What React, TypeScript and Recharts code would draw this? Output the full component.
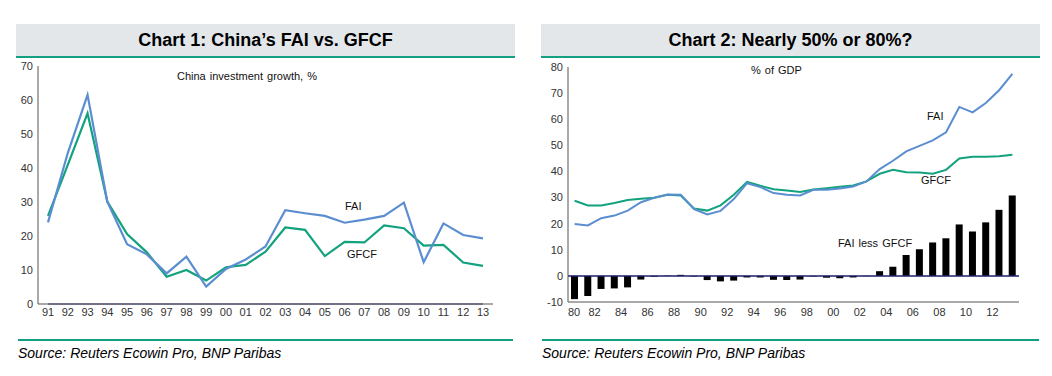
import React from "react";
import {
  LineChart,
  ComposedChart,
  Line,
  Bar,
  XAxis,
  YAxis,
  ReferenceLine,
} from "recharts";

// Chart 1: China investment growth, %
const years1 = ["91", "92", "93", "94", "95", "96", "97", "98", "99", "00", "01", "02", "03", "04", "05", "06", "07", "08", "09", "10", "11", "12", "13"];
const fai1 = [24.0, 44.4, 61.5, 30.1, 17.6, 14.6, 9.0, 13.9, 5.1, 10.3, 13.1, 16.9, 27.6, 26.7, 25.9, 23.9, 24.8, 25.9, 29.8, 12.3, 23.7, 20.3, 19.3];
const gfcf1 = [25.9, 40.9, 56.1, 30.1, 20.6, 15.2, 8.0, 10.0, 6.9, 10.8, 11.5, 15.4, 22.5, 21.8, 14.1, 18.3, 18.1, 23.1, 22.3, 17.2, 17.4, 12.2, 11.2];
const yTicks1 = [0, 10, 20, 30, 40, 50, 60, 70];

// Chart 2: % of GDP
const years2 = [1980, 1981, 1982, 1983, 1984, 1985, 1986, 1987, 1988, 1989, 1990, 1991, 1992, 1993, 1994, 1995, 1996, 1997, 1998, 1999, 2000, 2001, 2002, 2003, 2004, 2005, 2006, 2007, 2008, 2009, 2010, 2011, 2012, 2013];
const fai2 = [19.9, 19.3, 22.1, 23.1, 25.0, 28.2, 29.9, 31.2, 31.1, 25.6, 23.5, 24.9, 29.4, 35.5, 34.0, 31.7, 31.1, 30.8, 33.0, 33.0, 33.5, 34.2, 36.2, 40.9, 44.1, 47.7, 49.8, 51.9, 55.0, 64.7, 62.6, 66.2, 71.1, 77.4];
const gfcf2 = [28.8, 27.0, 27.0, 27.9, 29.1, 29.5, 29.9, 31.1, 30.8, 25.8, 25.0, 27.0, 31.1, 36.0, 34.5, 33.2, 32.7, 32.1, 33.1, 33.6, 34.1, 34.6, 36.2, 39.1, 40.6, 39.7, 39.6, 39.1, 40.6, 45.0, 45.6, 45.6, 45.8, 46.4];
const diff2 = [-8.9, -7.7, -5.0, -4.8, -4.4, -1.4, -0.3, 0.1, 0.4, -0.2, -1.6, -2.1, -1.8, -0.6, -0.6, -1.5, -1.6, -1.4, -0.2, -0.7, -0.9, -0.6, -0.1, 1.8, 3.5, 8.0, 10.2, 12.8, 14.4, 19.7, 17.0, 20.5, 25.3, 30.8];
const xTicks2 = [1980, 1982, 1984, 1986, 1988, 1990, 1992, 1994, 1996, 1998, 2000, 2002, 2004, 2006, 2008, 2010, 2012];
const yTicks2 = [-10, 0, 10, 20, 30, 40, 50, 60, 70, 80];

const data1 = years1.map((y, i) => ({ year: y, fai: fai1[i], gfcf: gfcf1[i] }));
// points sit in the middle of each year
const data2 = years2.map((y, i) => ({ t: y + 0.5, fai: fai2[i], gfcf: gfcf2[i], diff: diff2[i] }));

const FONT = "'Liberation Sans', Arial, sans-serif";
const BLUE = "#5b8ed0";
const GREEN = "#12a27e";
const NAVY = "#1d1d6b";
const RULE = "#14a082";
const AXIS = "#8e8e8e";
const tickStyle = { fontSize: 11, fill: "#333", fontFamily: FONT };

const Tick2 = (props: any) => {
  const { x, y, payload } = props;
  const dx = payload.value === 1980 ? 6 : 0;
  return (
    <text x={x + dx} y={y} dy={9} textAnchor="middle" {...tickStyle}>
      {String(payload.value).slice(2)}
    </text>
  );
};

const Header = ({ left, width, title }: { left: number; width: number; title: string }) => (
  <div
    style={{
      position: "absolute",
      left,
      top: 24,
      width,
      height: 32,
      background: "#e3e7ea",
      borderBottom: `2px solid ${RULE}`,
      display: "flex",
      alignItems: "center",
      justifyContent: "center",
      fontFamily: FONT,
      fontWeight: "bold",
      fontSize: 18,
      color: "#000",
    }}
  >
    {title}
  </div>
);

const Footer = ({ left, width }: { left: number; width: number }) => (
  <>
    <div style={{ position: "absolute", left, top: 339, width, height: 0, borderTop: `2px solid ${RULE}` }} />
    <div
      style={{
        position: "absolute",
        left,
        top: 345,
        fontFamily: FONT,
        fontStyle: "italic",
        fontSize: 14,
        color: "#000",
        whiteSpace: "nowrap",
      }}
    >
      Source: Reuters Ecowin Pro, BNP Paribas
    </div>
  </>
);

const Note = ({ x, y, text }: { x: number; y: number; text: string }) => (
  <div
    style={{
      position: "absolute",
      left: x,
      top: y - 7,
      fontFamily: FONT,
      fontSize: 11,
      color: "#111",
      whiteSpace: "nowrap",
      wordSpacing: 1,
    }}
  >
    {text}
  </div>
);

export default function App() {
  return (
    <div style={{ position: "absolute", left: 0, top: 0, width: 1052, height: 376, background: "#fff", overflow: "hidden" }}>
      <Header left={16} width={499} title="Chart 1: China’s FAI vs. GFCF" />
      <Header left={541} width={499} title="Chart 2: Nearly 50% or 80%?" />

      {/* Chart 1 */}
      <div style={{ position: "absolute", left: 0, top: 0 }}>
        <LineChart width={530} height={376} data={data1} margin={{ top: 66, right: 37, left: 8, bottom: 42 }}>
          <XAxis
            dataKey="year"
            height={30}
            padding={{ left: 10, right: 10 }}
            interval={0}
            tick={tickStyle}
            tickLine={false}
            tickSize={0}
            tickMargin={4}
            axisLine={{ stroke: AXIS, strokeWidth: 1.5 }}
          />
          <YAxis
            width={30}
            domain={[0, 70]}
            ticks={yTicks1}
            tick={tickStyle}
            tickLine={false}
            tickSize={0}
            tickMargin={5}
            axisLine={{ stroke: "#555", strokeWidth: 1 }}
          />
          <ReferenceLine
            segment={[
              { x: years1[0], y: 0 },
              { x: years1[years1.length - 1], y: 0 },
            ]}
            stroke={NAVY}
            strokeWidth={2}
          />
          <Line dataKey="gfcf" stroke={GREEN} strokeWidth={2.2} dot={false} isAnimationActive={false} />
          <Line dataKey="fai" stroke={BLUE} strokeWidth={2.2} dot={false} isAnimationActive={false} />
        </LineChart>
      </div>

      {/* Chart 2 */}
      <div style={{ position: "absolute", left: 530, top: 0 }}>
        <ComposedChart width={522} height={376} data={data2} margin={{ top: 67, right: 33, left: 8, bottom: 44 }}>
          <XAxis
            dataKey="t"
            type="number"
            domain={[1980, 2014]}
            ticks={xTicks2}
            interval={0}
            height={30}
            tick={<Tick2 />}
            tickLine={false}
            tickSize={0}
            tickMargin={5}
            axisLine={{ stroke: AXIS, strokeWidth: 1.5 }}
          />
          <YAxis
            width={30}
            domain={[-10, 80]}
            ticks={yTicks2}
            tick={tickStyle}
            tickLine={false}
            tickSize={0}
            tickMargin={5}
            axisLine={{ stroke: "#555", strokeWidth: 1 }}
          />
          <Bar dataKey="diff" fill="#000" barSize={7} isAnimationActive={false} />
          <ReferenceLine y={0} stroke={NAVY} strokeWidth={1.5} />
          <Line dataKey="gfcf" stroke={GREEN} strokeWidth={2} dot={false} isAnimationActive={false} />
          <Line dataKey="fai" stroke={BLUE} strokeWidth={2} dot={false} isAnimationActive={false} />
        </ComposedChart>
      </div>

      <Note x={177} y={77} text="China investment growth, %" />
      <Note x={345} y={207} text="FAI" />
      <Note x={347} y={255} text="GFCF" />
      <Note x={751} y={71} text="% of GDP" />
      <Note x={927} y={117} text="FAI" />
      <Note x={921} y={181} text="GFCF" />
      <Note x={838} y={244} text="FAI less GFCF" />

      <Footer left={18} width={495} />
      <Footer left={542} width={497} />
    </div>
  );
}
